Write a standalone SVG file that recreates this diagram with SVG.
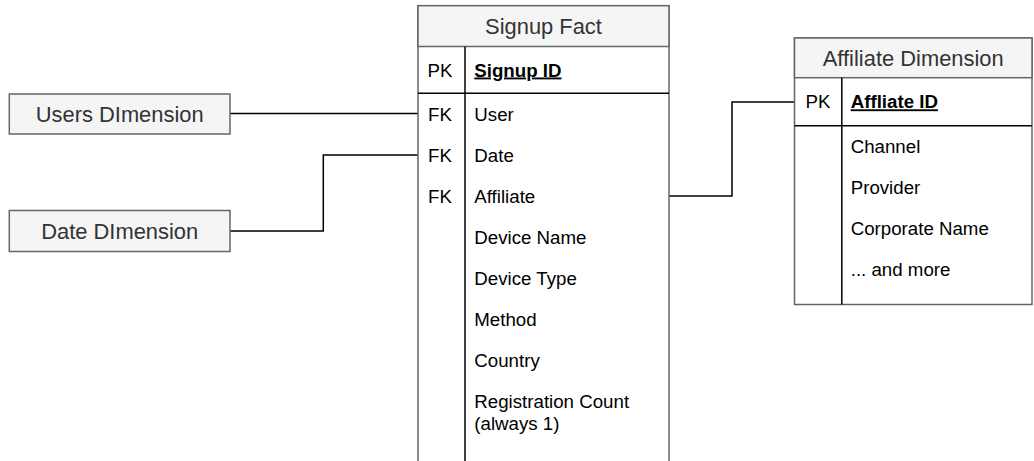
<svg xmlns="http://www.w3.org/2000/svg" width="1034" height="461" viewBox="0 0 1034 461">
<style>
text{font-family:"Liberation Sans",Arial,Helvetica,sans-serif}
.hdr{fill:#f5f5f5;stroke:#666666;stroke-width:1.5}
.body{fill:#ffffff;stroke:#666666;stroke-width:1.5}
.htxt{font-size:21.9px;fill:#333333;text-anchor:middle}
.f{font-size:18.7px;fill:#000000}
.k{font-size:18.7px;fill:#000000;text-anchor:middle}
.pk{font-weight:bold;text-decoration:underline}
.sep{stroke:#000000;stroke-width:1.5;fill:none}
.hsep{stroke:#999999;stroke-width:1.2;fill:none}
.conn{stroke:#000000;stroke-width:1.5;fill:none}
</style>
<g id="connectors">
<polyline class="conn" points="230,113.5 418,113.5"/>
<polyline class="conn" points="230,231 323.3,231 323.3,155 418,155"/>
<polyline class="conn" points="669,196 732,196 732,102 794.5,102"/>
</g>
<g id="users-dimension">
<rect class="hdr" x="9.3" y="94" width="220.7" height="40"/>
<text class="htxt" x="119.7" y="121.8">Users DImension</text>
</g>
<g id="date-dimension">
<rect class="hdr" x="9.3" y="210.5" width="220.7" height="41"/>
<text class="htxt" x="119.7" y="238.8">Date DImension</text>
</g>
<g id="signup-fact">
<rect class="body" x="418" y="5.7" width="251" height="470"/>
<rect class="hdr" x="418" y="5.7" width="251" height="40.8"/>
<text class="htxt" x="543.5" y="34">Signup Fact</text>
<line class="sep" x1="465" y1="46.5" x2="465" y2="470"/>
<line class="sep" x1="418" y1="93.3" x2="669" y2="93.3"/>
<text class="k" x="440" y="76.5">PK</text>
<text class="f pk" x="474.3" y="76.5">Signup ID</text>
<text class="k" x="440" y="120.7">FK</text>
<text class="f" x="474.3" y="120.7">User</text>
<text class="k" x="440" y="161.7">FK</text>
<text class="f" x="474.3" y="161.7">Date</text>
<text class="k" x="440" y="202.7">FK</text>
<text class="f" x="474.3" y="202.7">Affiliate</text>
<text class="f" x="474.3" y="243.7">Device Name</text>
<text class="f" x="474.3" y="284.7">Device Type</text>
<text class="f" x="474.3" y="325.7">Method</text>
<text class="f" x="474.3" y="366.7">Country</text>
<text class="f" x="474.3" y="408">Registration Count</text>
<text class="f" x="474.3" y="430">(always 1)</text>
</g>
<g id="affiliate-dimension">
<rect class="body" x="794.5" y="38" width="237.5" height="266.5"/>
<rect class="hdr" x="794.5" y="38" width="237.5" height="39.7"/>
<text class="htxt" x="913.2" y="65.8">Affiliate Dimension</text>
<line class="sep" x1="841.8" y1="77.7" x2="841.8" y2="304.5"/>
<line class="sep" x1="794.5" y1="125.7" x2="1032" y2="125.7"/>
<text class="k" x="818" y="108.3">PK</text>
<text class="f pk" x="850.7" y="108.3">Affliate ID</text>
<text class="f" x="850.7" y="152.7">Channel</text>
<text class="f" x="850.7" y="193.7">Provider</text>
<text class="f" x="850.7" y="234.7">Corporate Name</text>
<text class="f" x="850.7" y="275.7">... and more</text>
</g>
</svg>
